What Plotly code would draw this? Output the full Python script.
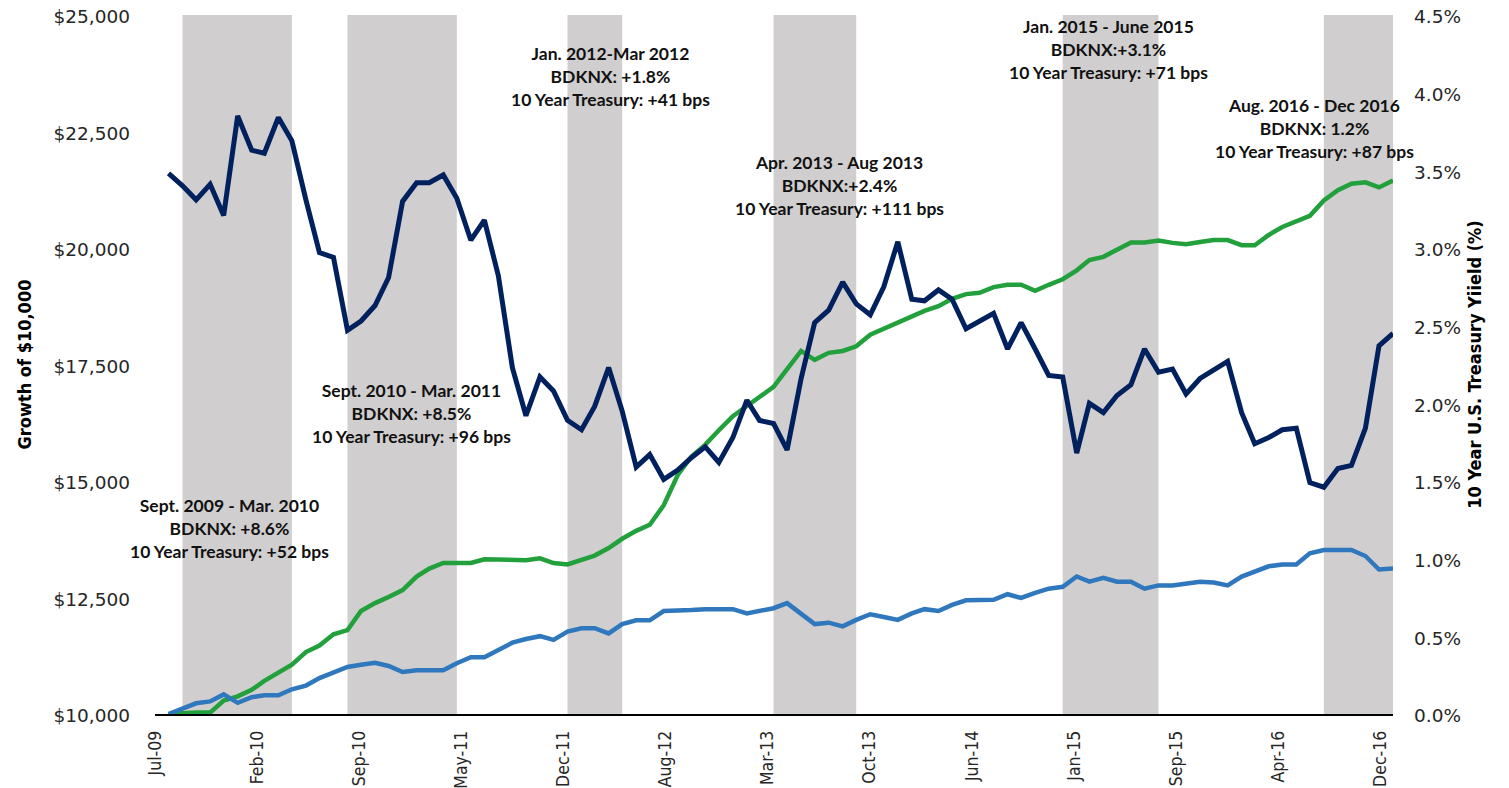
import pandas as pd
import plotly.graph_objects as go

# ---------------- data ----------------
months = pd.date_range("2009-07-31", periods=90, freq="ME")  # month-end observations Jul-09 .. Dec-16

treasury_yield = [  # 10 Year U.S. Treasury yield, %
    3.48, 3.40, 3.31, 3.41, 3.21, 3.85,
    3.63, 3.61, 3.84, 3.69, 3.31, 2.97, 2.94, 2.47, 2.53, 2.63, 2.81, 3.30,
    3.42, 3.42, 3.47, 3.32, 3.05, 3.18, 2.82, 2.23, 1.92, 2.17, 2.08, 1.89,
    1.83, 1.98, 2.23, 1.95, 1.59, 1.67, 1.51, 1.57, 1.65, 1.72, 1.62, 1.78,
    2.02, 1.89, 1.87, 1.70, 2.16, 2.52, 2.60, 2.78, 2.64, 2.57, 2.75, 3.04,
    2.67, 2.66, 2.73, 2.67, 2.48, 2.53, 2.58, 2.35, 2.52, 2.35, 2.18, 2.17,
    1.68, 2.00, 1.94, 2.05, 2.12, 2.35, 2.20, 2.22, 2.06, 2.16, 2.21, 2.27,
    1.94, 1.74, 1.78, 1.83, 1.84, 1.49, 1.46, 1.58, 1.60, 1.84, 2.37, 2.45,
]

bdknx_growth = [  # growth of $10,000, BDKNX
    10000, 10020, 10030, 10030, 10290, 10380,
    10520, 10710, 10900, 11060, 11330, 11470, 11710, 11800, 12210, 12380, 12510, 12660,
    12950, 13120, 13240, 13240, 13240, 13320, 13320, 13300, 13300, 13340, 13240, 13210,
    13300, 13400, 13560, 13760, 13930, 14060, 14480, 15130, 15520, 15780, 16090, 16390,
    16610, 16800, 17020, 17400, 17790, 17600, 17750, 17790, 17890, 18140, 18270, 18380,
    18530, 18650, 18750, 18910, 19010, 19040, 19160, 19210, 19210, 19080, 19210, 19330,
    19520, 19740, 19810, 19970, 20120, 20120, 20160, 20110, 20080, 20130, 20170, 20170,
    20060, 20060, 20280, 20450, 20580, 20690, 21020, 21240, 21380, 21410, 21300, 21450,
]

benchmark_growth = [  # growth of $10,000, benchmark
    10000, 10110, 10230, 10270, 10420, 10240,
    10360, 10400, 10400, 10530, 10610, 10770, 10900, 11010, 11055, 11100, 11030, 10900,
    10940, 10940, 10940, 11090, 11220, 11220, 11380, 11530, 11610, 11670, 11590, 11770,
    11840, 11840, 11730, 11930, 12010, 12010, 12210, 12210, 12230, 12250, 12250, 12250,
    12160, 12210, 12270, 12380, 12160, 11930, 11960, 11880, 12020, 12140, 12080, 12020,
    12160, 12250, 12210, 12340, 12440, 12450, 12450, 12570, 12490, 12600, 12690, 12730,
    12950, 12840, 12920, 12840, 12840, 12690, 12760, 12760, 12790, 12840, 12820, 12760,
    12950, 13050, 13170, 13210, 13210, 13450, 13520, 13520, 13520, 13390, 13100, 13120,
]

shade_starts = ["2009-08-31", "2010-08-31", "2011-12-31", "2013-03-31", "2014-12-31", "2016-07-31"]
shade_ends = ["2010-04-30", "2011-04-30", "2012-04-30", "2013-09-30", "2015-07-31", "2016-12-31"]

tick_dates = ["2009-07-01", "2010-02-12", "2010-09-26", "2011-05-10", "2011-12-22", "2012-08-04",
              "2013-03-18", "2013-10-30", "2014-06-13", "2015-01-25", "2015-09-08", "2016-04-21",
              "2016-12-03"]
tick_labels = ["Jul-09", "Feb-10", "Sep-10", "May-11", "Dec-11", "Aug-12", "Mar-13", "Oct-13",
               "Jun-14", "Jan-15", "Sep-15", "Apr-16", "Dec-16"]

left_ticks = [10000, 12500, 15000, 17500, 20000, 22500, 25000]
left_tick_labels = ["$10,000", "$12,500", "$15,000", "$17,500", "$20,000", "$22,500", "$25,000"]
right_ticks = [0.0, 0.5, 1.0, 1.5, 2.0, 2.5, 3.0, 3.5, 4.0, 4.5]
right_tick_labels = ["0.0%", "0.5%", "1.0%", "1.5%", "2.0%", "2.5%", "3.0%", "3.5%", "4.0%", "4.5%"]

notes = [
    "Sept. 2009 - Mar. 2010<br>BDKNX: +8.6%<br>10 Year Treasury: +52 bps",
    "Sept. 2010 - Mar. 2011<br>BDKNX: +8.5%<br>10 Year Treasury: +96 bps",
    "Jan. 2012-Mar 2012<br>BDKNX: +1.8%<br>10 Year Treasury: +41 bps",
    "Apr. 2013 - Aug 2013<br>BDKNX:+2.4%<br>10 Year Treasury: +111 bps",
    "Jan. 2015 - June 2015<br>BDKNX:+3.1%<br>10 Year Treasury: +71 bps",
    "Aug. 2016 - Dec 2016<br>BDKNX: 1.2%<br>10 Year Treasury: +87 bps",
]

# ---------------- layout geometry ----------------
# The page body has an 8px margin, so the figure is drawn 8px in from the top-left corner.
PAGE_OFF = 8
W, H = 1509 - PAGE_OFF, 788 - PAGE_OFF
PLOT_L, PLOT_R, PLOT_T, PLOT_B = 155, 1393, 15, 714  # target plot box in page pixels
ML, MT = PLOT_L - PAGE_OFF, PLOT_T - PAGE_OFF
MR, MB = W - (PLOT_R - PAGE_OFF), H - (PLOT_B - PAGE_OFF)
PW, PH = PLOT_R - PLOT_L, PLOT_B - PLOT_T


def px_to_paper(px, py):
    return (px - PLOT_L) / PW, (PLOT_B - py) / PH


note_pos = [(229, 528), (411, 413), (610, 76), (839, 185), (1108, 50), (1314, 128)]

COND = "DejaVu Sans Condensed, Liberation Sans Narrow, Arial Narrow, sans-serif"
REG = "DejaVu Sans, Verdana, sans-serif"
TXT = "#262626"

fig = go.Figure()

for s, e in zip(shade_starts, shade_ends):
    fig.add_vrect(x0=s, x1=e, fillcolor="#D0CECF", opacity=1, line_width=0, layer="below")

fig.add_trace(go.Scatter(x=months, y=bdknx_growth, mode="lines", name="BDKNX",
                         line=dict(color="#22A03C", width=4.5), yaxis="y"))
fig.add_trace(go.Scatter(x=months, y=benchmark_growth, mode="lines", name="Benchmark",
                         line=dict(color="#2F78BD", width=4.5), yaxis="y"))
fig.add_trace(go.Scatter(x=months, y=treasury_yield, mode="lines", name="10 Year U.S. Treasury Yield",
                         line=dict(color="#00215E", width=5), yaxis="y2"))

for text, (px, py) in zip(notes, note_pos):
    ax, ay = px_to_paper(px, py)
    fig.add_annotation(x=ax, y=ay, xref="paper", yref="paper", text=text, showarrow=False,
                       xanchor="center", yanchor="middle", align="center",
                       font=dict(family="Lato, Noto Sans, sans-serif", size=17.5, color="#111111",
                                 weight="bold"))

fig.update_layout(
    width=W, height=H,
    margin=dict(l=ML, r=MR, t=MT, b=MB, pad=0, autoexpand=False),
    paper_bgcolor="white", plot_bgcolor="white",
    showlegend=False,
    xaxis=dict(
        type="date", range=["2009-07-01", "2016-12-31"],
        tickmode="array", tickvals=tick_dates, ticktext=tick_labels, tickangle=-90,
        tickfont=dict(family=COND, size=17.5, color=TXT),
        ticks="", ticklabelstandoff=8, automargin=False, ticklabeloverflow="allow",
        showgrid=False, zeroline=False,
        showline=True, linecolor="#000000", linewidth=1.5,
    ),
    yaxis=dict(
        range=[10000, 25000], tickmode="array", tickvals=left_ticks, ticktext=left_tick_labels,
        tickfont=dict(family=REG, size=18.5, color=TXT),
        ticks="", ticklabelstandoff=24, ticklabelshift=2, automargin=False,
        ticklabeloverflow="allow",
        showgrid=False, zeroline=False, showline=False,
        title=dict(text="Growth of $10,000", standoff=17,
                   font=dict(family=COND, size=18, color="#000000", weight="bold")),
    ),
    yaxis2=dict(
        overlaying="y", side="right", range=[0, 4.5],
        tickmode="array", tickvals=right_ticks, ticktext=right_tick_labels,
        tickfont=dict(family=REG, size=18.5, color=TXT),
        ticks="", ticklabelstandoff=20, ticklabelshift=2, automargin=False,
        ticklabeloverflow="allow",
        showgrid=False, zeroline=False, showline=False,
        title=dict(text="10 Year U.S. Treasury Yiield (%)", standoff=8,
                   font=dict(family=COND, size=18, color="#000000", weight="bold")),
    ),
)

fig.write_html("out.html")
